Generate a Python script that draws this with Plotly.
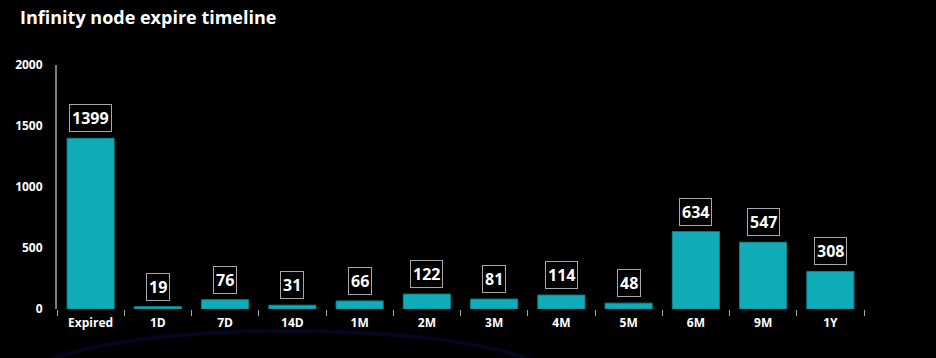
import plotly.graph_objects as go

categories = ["Expired", "1D", "7D", "14D", "1M", "2M", "3M", "4M", "5M", "6M", "9M", "1Y"]
values = [1399, 19, 76, 31, 66, 122, 81, 114, 48, 634, 547, 308]
y_ticks = [0, 500, 1000, 1500, 2000]

W, H = 936, 358
ML, MR, MT, MB = 57, 72, 65, 49
PW = W - ML - MR
PH = H - MT - MB

def px_x(p):
    return (p - ML) / PW

def px_y(p):
    return (H - MB - p) / PH

fig = go.Figure()
fig.add_trace(go.Bar(
    x=categories, y=values, width=0.7,
    marker=dict(color="#10adb9", line=dict(color="#0b8790", width=1)),
    hoverinfo="x+y",
))

for c, v in zip(categories, values):
    fig.add_annotation(
        x=c, y=v, xref="x", yref="y", text=f"<b>{v}</b>", showarrow=False,
        yanchor="bottom", yshift=6,
        font=dict(family="Open Sans", size=16, color="white"),
        bordercolor="#a8a8a8", borderwidth=1, borderpad=2, bgcolor="black",
    )

# decorative faint arc in background
fig.add_shape(
    type="circle", xref="paper", yref="paper",
    x0=px_x(25), x1=px_x(555), y0=px_y(331), y1=px_y(431),
    line=dict(color="#04071f", width=4), fillcolor="rgba(0,0,0,0)", layer="below",
)

fig.update_layout(
    width=W, height=H,
    margin=dict(l=ML, r=MR, t=MT, b=MB),
    paper_bgcolor="black", plot_bgcolor="black",
    showlegend=False,
    title=dict(
        text="<b>Infinity node expire timeline</b>",
        x=20 / W, xref="container", xanchor="left",
        y=1 - 18 / H, yref="container", yanchor="middle",
        font=dict(family="Open Sans", size=18, color="white"),
    ),
    xaxis=dict(
        type="category", showgrid=False, showline=False, zeroline=False,
        ticks="outside", tickson="boundaries", ticklen=6, tickwidth=1, tickcolor="#aaaaaa",
        ticklabelstandoff=5,
        tickfont=dict(family="Open Sans", size=12, color="white", weight="bold"),
        range=[-0.5, len(categories) - 0.5],
    ),
    yaxis=dict(
        range=[0, 2000], tickvals=y_ticks, showgrid=False, zeroline=False,
        showline=True, linecolor="#7a7a7a", linewidth=2,
        ticks="", ticklabelstandoff=10,
        tickfont=dict(family="Open Sans", size=12, color="white", weight="bold"),
    ),
)

fig.write_html(
    "out.html",
    config={"displayModeBar": False},
    post_script="document.body.style.margin='0';document.body.style.background='black';",
)
